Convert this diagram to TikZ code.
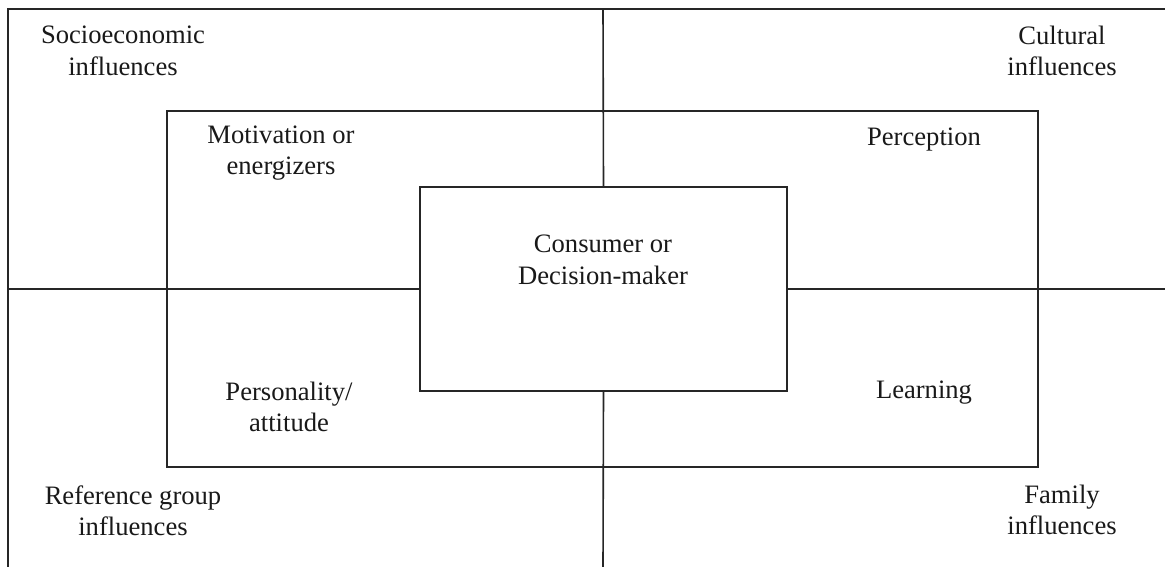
\documentclass[tikz,border=0pt]{standalone}
\usepackage{fontspec}
\setmainfont{Liberation Serif}
\usetikzlibrary{positioning}

\begin{document}
\begin{tikzpicture}[
    x=1pt, y=-1pt,
    frame/.style={line width=1.6pt, draw=black!85},
    box/.style={rectangle, draw=black!85, line width=1.6pt, inner sep=0pt},
    txt/.style={align=center, text=black!90, inner sep=0pt, font=\fontsize{26.6}{31.5}\selectfont}
]
\useasboundingbox (0,0) rectangle (1165,567);

% outer frame and cross
\coordinate (frameTL) at (8,9);
\coordinate (frameTR) at (1165,9);
\coordinate (frameBL) at (8,567);
\coordinate (crossTop) at (603,9);
\coordinate (crossBottom) at (603,567);
\coordinate (crossLeft) at (8,289);
\coordinate (crossRight) at (1165,289);

\draw [frame] (frameTR) -- (frameTL) -- (frameBL);

\node (ring) [box, minimum width=871, minimum height=356] at (602.5,289) {};
\node (consumer) [box, fill=white, minimum width=367, minimum height=204] at (603.5,289) {};

\draw [frame] (crossTop) -- (consumer.north);
\draw [frame] (consumer.south) -- (crossBottom);
\draw [frame] (crossLeft) -- (consumer.west);
\draw [frame] (consumer.east) -- (crossRight);

% outer influences
\node (socio) [txt] at (123,51) {Socioeconomic\\influences};
\node (cultural) [txt] at (1062,51) {Cultural\\influences};
\node (reference) [txt] at (133,511) {Reference group\\influences};
\node (family) [txt] at (1062,510) {Family\\influences};

% inner factors
\node (motivation) [txt] at (281,153) {Motivation or\\energizers};
\node (perception) [txt] at (924,140) {Perception};
\node (personality) [txt] at (289,407) {Personality/\\attitude};
\node (learning) [txt] at (924,393) {Learning};

\node (decider) [txt] at (603,260) {Consumer or\\Decision-maker};

\end{tikzpicture}
\end{document}
